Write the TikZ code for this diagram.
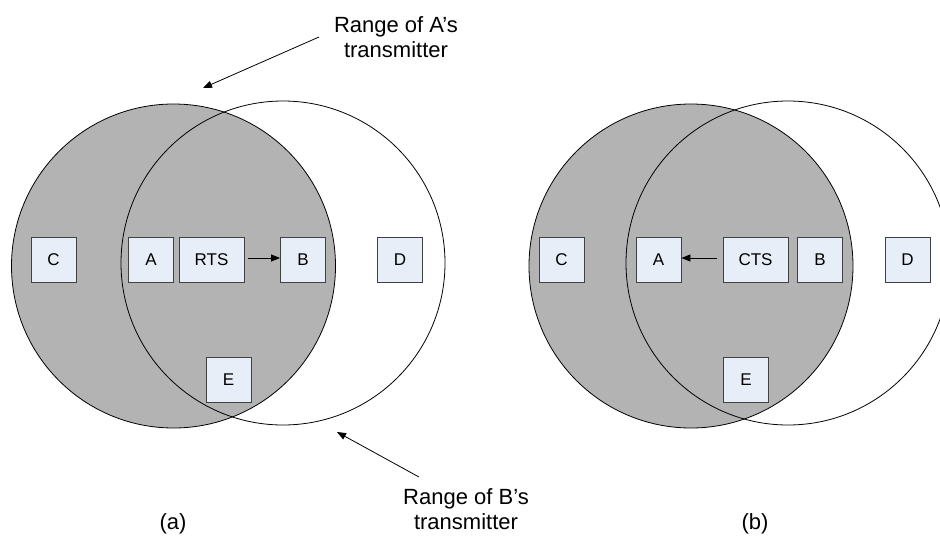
\documentclass[tikz,border=0pt]{standalone}
\usepackage{fontspec}
\setmainfont{Liberation Sans}
\usetikzlibrary{arrows.meta}
\definecolor{boxfill}{HTML}{E8EEF8}
\definecolor{boxline}{HTML}{404040}
\definecolor{range}{HTML}{B3B3B3}
\begin{document}
\begin{tikzpicture}[x=1pt,y=-1pt,
  station/.style={draw=boxline,fill=boxfill,line width=0.9pt,minimum width=45pt,minimum height=45pt,inner sep=0pt,font=\fontsize{17}{20}\selectfont},
  msg/.style={station,minimum width=65pt},
  circ/.style={draw=black,line width=0.8pt},
  arr/.style={-{Triangle[length=9pt,width=7pt]},line width=0.8pt},
  lbl/.style={font=\fontsize{22}{25.5}\selectfont,align=center,inner sep=0pt}]
\useasboundingbox (0,0) rectangle (940,538);
\clip (0,0) rectangle (940,538);
% panel (a)
\path[circ,fill=range] (173.5,266) circle[radius=162];
\path[circ] (283,263) circle[radius=162];
\node[station] (aC) at (53.5,259.5) {C};
\node[station] (aA) at (151,259.5) {A};
\node[msg] (aR) at (211.5,259.5) {RTS};
\node[station] (aB) at (303,259.5) {B};
\node[station] (aD) at (400,259.5) {D};
\node[station] (aE) at (228.5,379.5) {E};
\draw[arr] (aR.east) ++(4,-1.5) coordinate (rs) -- (aB.west |- rs);
\node[lbl] (la) at (396,37) {Range of A’s\\transmitter};
\coordinate (latip) at (203,88);
\coordinate (lastart) at (319,37);
\draw[arr] (lastart) -- (latip);
\node[lbl] (lb) at (466,509) {Range of B’s\\transmitter};
\coordinate (lbtip) at (337,432);
\coordinate (lbstart) at (419,477);
\draw[arr] (lbstart) -- (lbtip);
\node[lbl] (capa) at (173,524) {(a)};
% panel (b)
\path[circ,fill=range] (691,266) circle[radius=162];
\path[circ] (788,263) circle[radius=162];
\node[station] (bC) at (561.5,259.5) {C};
\node[station] (bA) at (658.5,259.5) {A};
\node[msg] (bR) at (755.5,259.5) {CTS};
\node[station] (bB) at (820,259.5) {B};
\node[station] (bD) at (907.5,259.5) {D};
\node[station] (bE) at (746,379.5) {E};
\draw[arr] (bR.west) ++(-6,-1.5) coordinate (cs) -- (bA.east |- cs);
\node[lbl] (capb) at (755,524) {(b)};
\end{tikzpicture}
\end{document}
